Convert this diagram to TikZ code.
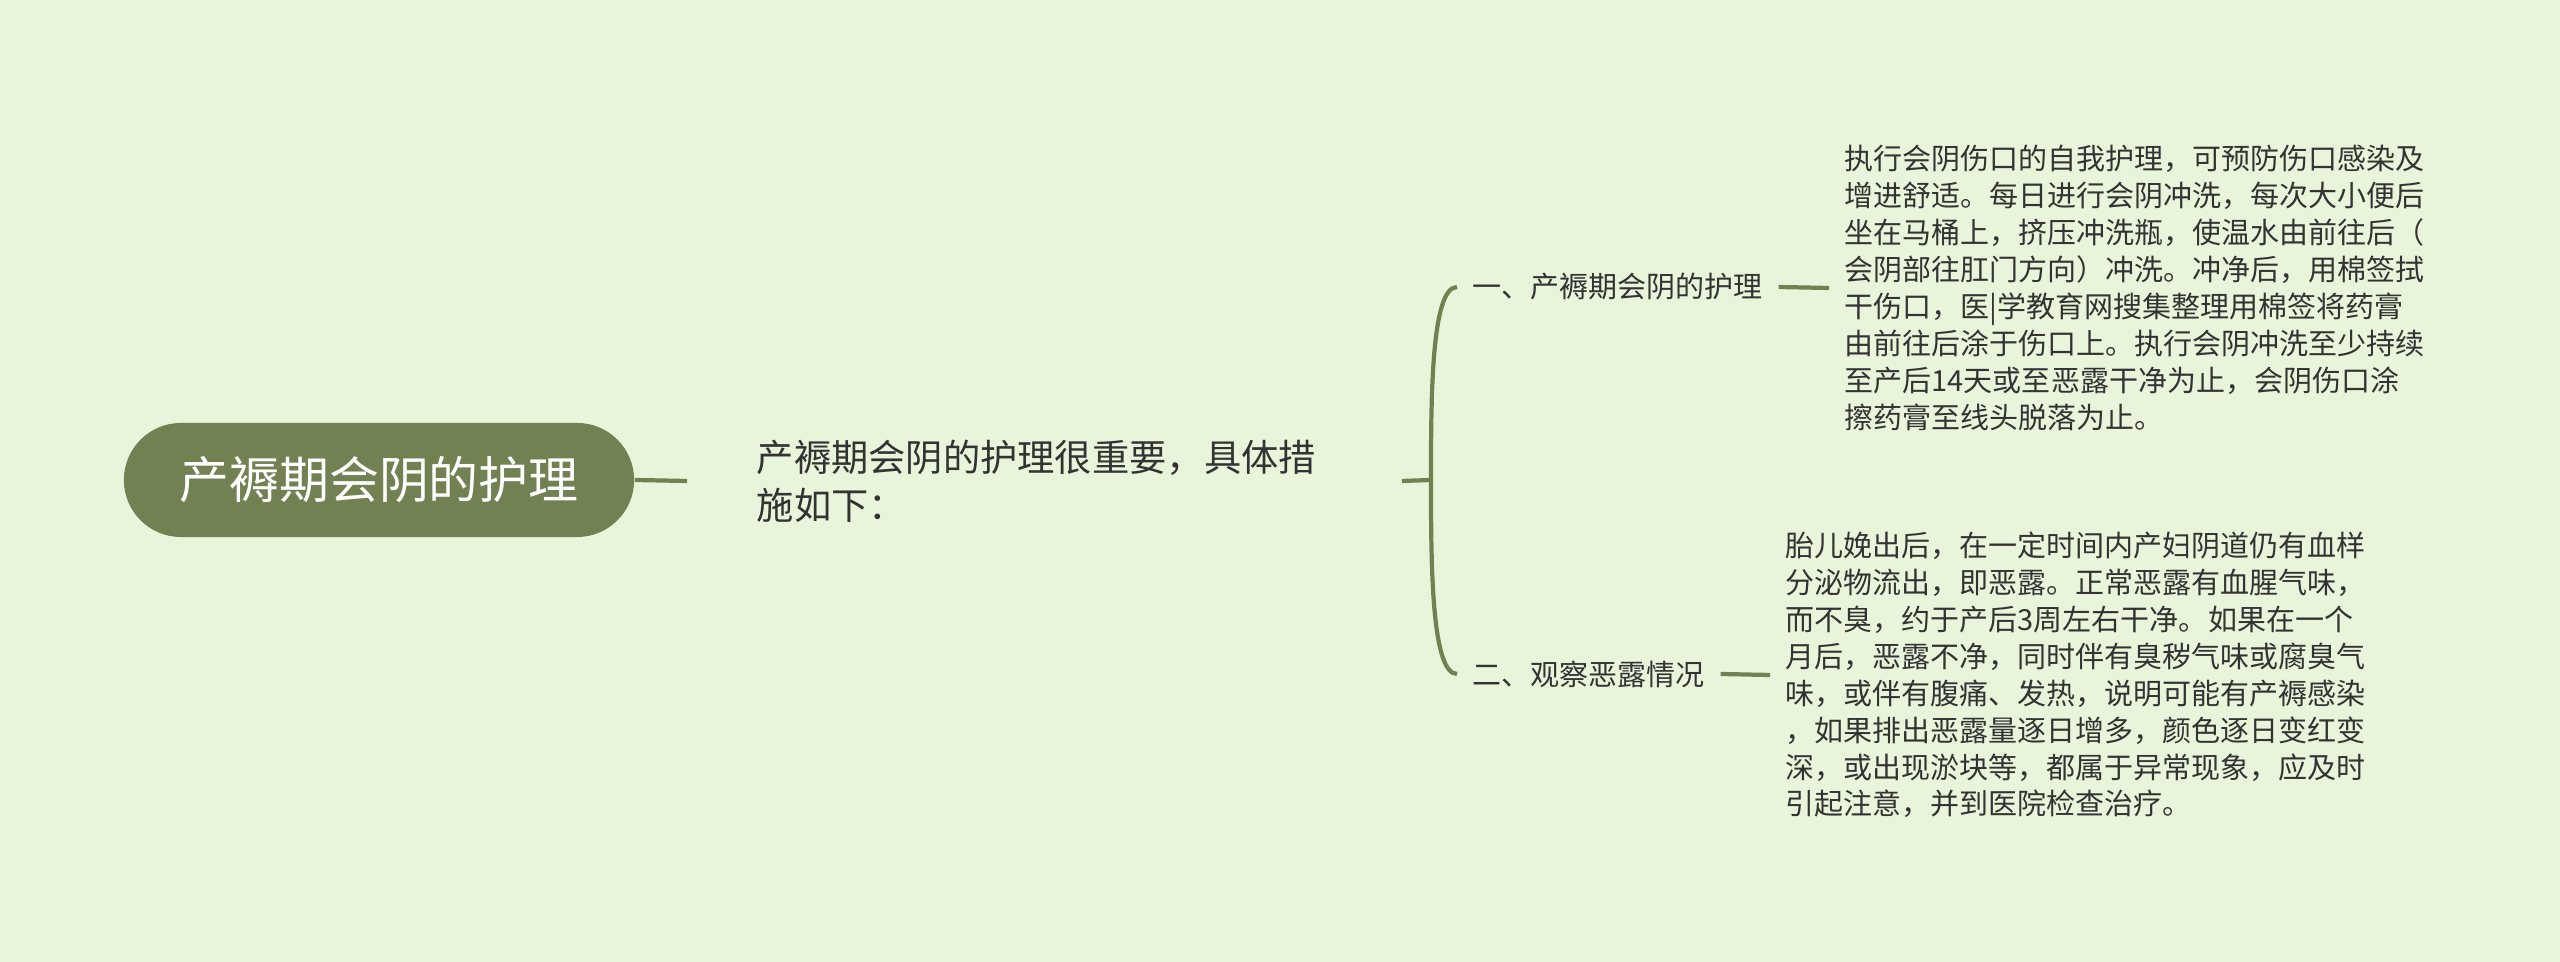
\documentclass[tikz,border=0pt]{standalone}
\usepackage{fontspec}
\setmainfont{Noto Sans CJK SC}
\definecolor{paper}{HTML}{E8F5DA}
\definecolor{mapgreen}{HTML}{718152}
\definecolor{ink}{HTML}{333333}
\usetikzlibrary{positioning}

\begin{document}
\begin{tikzpicture}[x=0.01cm, y=-0.01cm,
    rootnode/.style={fill=mapgreen, text=white, rounded corners=0.57cm,
      minimum width=5.1cm, minimum height=1.14cm,
      font=\fontsize{14.2pt}{17pt}\selectfont},
    midnode/.style={text=ink, align=left, text width=5.75cm,
      inner xsep=0.69cm, inner ysep=0pt,
      font=\fontsize{10.6pt}{13.7pt}\selectfont},
    branchnode/.style={text=ink, inner xsep=0.15cm, inner ysep=0pt,
      font=\fontsize{8.25pt}{10.5pt}\selectfont},
    leafnode/.style={branchnode, align=left, text width=5.9cm},
    link/.style={draw=mapgreen, line width=1.2pt}]
    % background, also fixes the page size
    \fill[paper] (0,0) rectangle (2560,962);

    \node[rootnode] (root) at (379,480) {产褥期会阴的护理};
    \node[midnode, anchor=west] (mid) at (687,481)
      {产褥期会阴的护理很重要，具体措\\施如下：};
    \coordinate (fork) at (1431,480);

    \node[branchnode, anchor=west] (b1) at (1457,287) {一、产褥期会阴的护理};
    \node[branchnode, anchor=west] (b2) at (1457,674) {二、观察恶露情况};

    \node[leafnode, anchor=west] (leaf1) at (1829,288)
      {执行会阴伤口的自我护理，可预防伤口感染及\\
       增进舒适。每日进行会阴冲洗，每次大小便后\\
       坐在马桶上，挤压冲洗瓶，使温水由前往后（\\
       会阴部往肛门方向）冲洗。冲净后，用棉签拭\\
       干伤口，医|学教育网搜集整理用棉签将药膏\\
       由前往后涂于伤口上。执行会阴冲洗至少持续\\
       至产后14天或至恶露干净为止，会阴伤口涂\\
       擦药膏至线头脱落为止。};
    \node[leafnode, anchor=west] (leaf2) at (1770,675)
      {胎儿娩出后，在一定时间内产妇阴道仍有血样\\
       分泌物流出，即恶露。正常恶露有血腥气味，\\
       而不臭，约于产后3周左右干净。如果在一个\\
       月后，恶露不净，同时伴有臭秽气味或腐臭气\\
       味，或伴有腹痛、发热，说明可能有产褥感染\\
       ，如果排出恶露量逐日增多，颜色逐日变红变\\
       深，或出现淤块等，都属于异常现象，应及时\\
       引起注意，并到医院检查治疗。};

    % connectors
    \draw[link] (root.east) -- (mid.west);
    \draw[link] (mid.east) -- (fork);
    \draw[link] (b1.west) .. controls (fork |- b1.west) and ([yshift=0.8cm]fork) .. (fork)
      .. controls ([yshift=-0.8cm]fork) and (fork |- b2.west) .. (b2.west);
    \draw[link] (b1.east) -- (leaf1.west);
    \draw[link] (b2.east) -- (leaf2.west);
  \end{tikzpicture}
\end{document}
